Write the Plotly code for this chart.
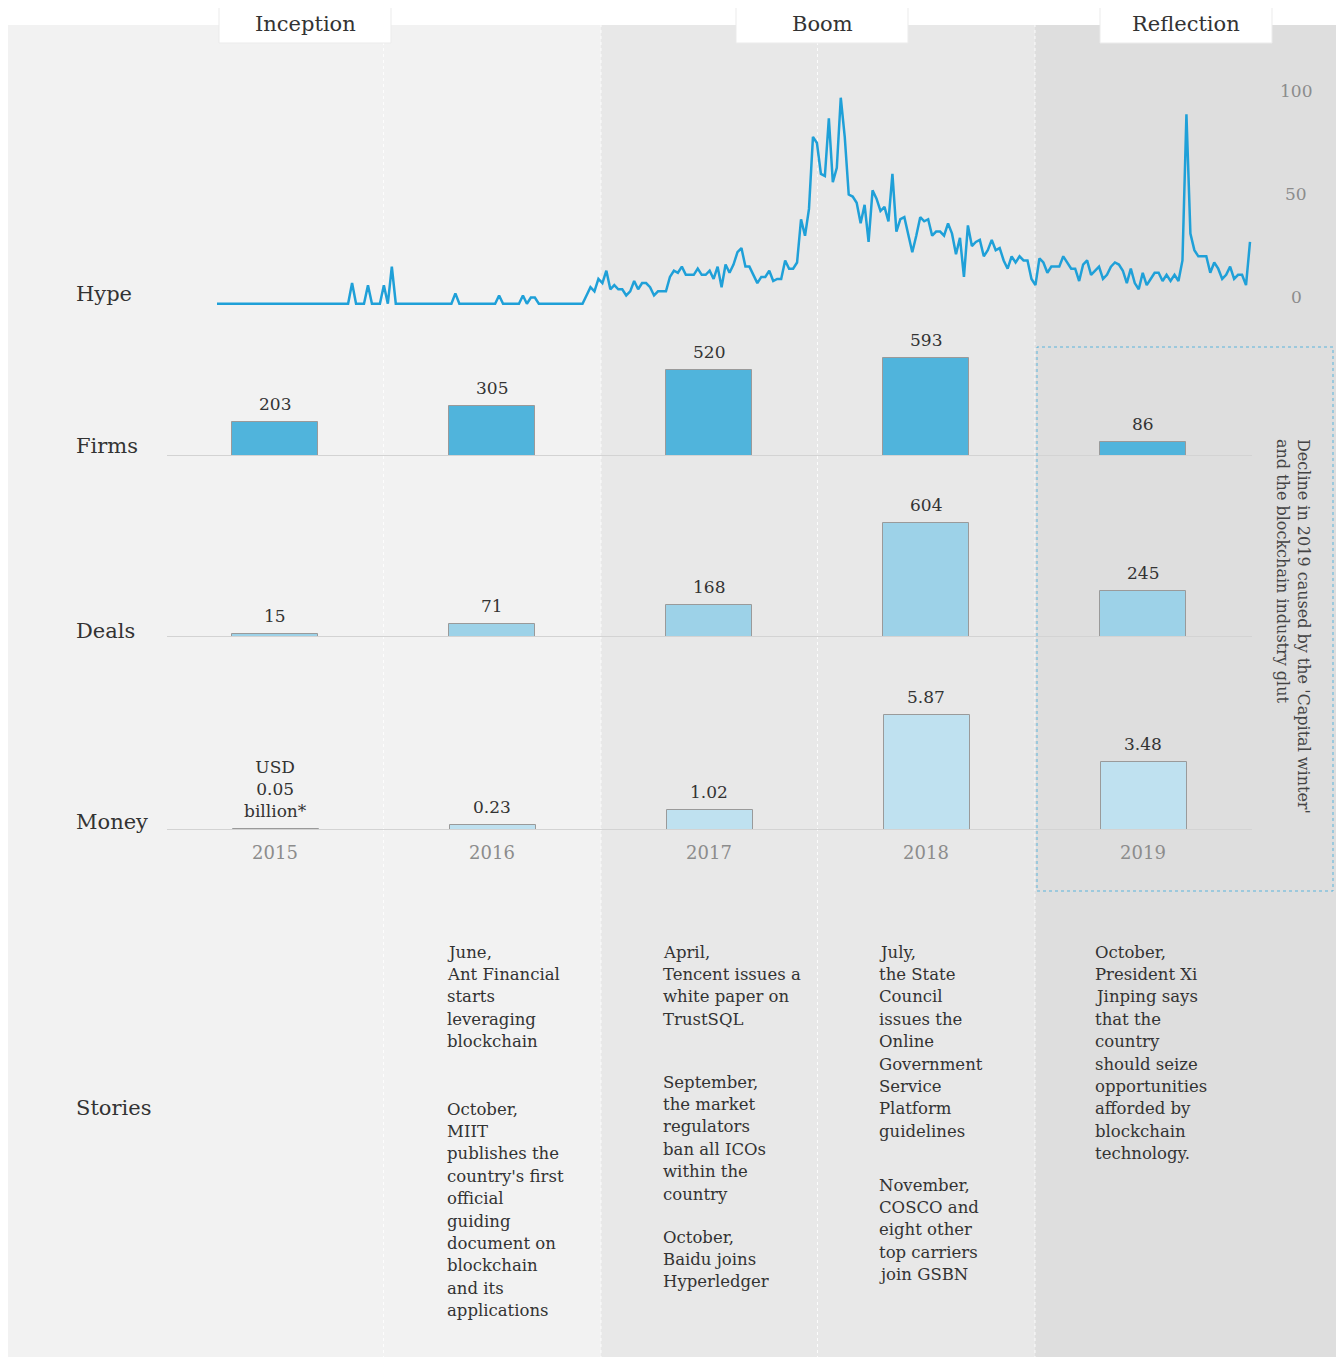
import plotly.graph_objects as go

# ---------------- data ----------------
years = [2015, 2016, 2017, 2018, 2019]
year_labels = ["2015", "2016", "2017", "2018", "2019"]
firms = [203, 305, 520, 593, 86]
firm_labels = ["203", "305", "520", "593", "86"]
deals = [15, 71, 168, 604, 245]
deal_labels = ["15", "71", "168", "604", "245"]
money = [0.05, 0.23, 1.02, 5.87, 3.48]
money_labels = ["USD<br>0.05<br>billion*", "0.23", "1.02", "5.87", "3.48"]

hype = [
    0, 0, 0, 0, 0, 0, 0, 0, 0, 0, 0, 0, 0, 0, 0, 0, 0, 0, 0, 0,
    0, 0, 0, 0, 0, 0, 0, 0, 0, 0, 0, 0, 0,
    0, 10, 0, 0, 0, 9, 0, 0, 0, 9, 0, 18,
    0, 0, 0, 0, 0, 0, 0, 0, 0, 0, 0, 0, 0, 0, 0,
    5,
    0, 0, 0, 0, 0, 0, 0, 0, 0, 0,
    4,
    0, 0, 0, 0, 0,
    4, 0, 3, 3,
    0, 0, 0, 0, 0, 0, 0, 0, 0, 0, 0, 0,
    4, 8, 6, 12, 10, 16, 7, 9, 7, 7,
    4, 6, 11, 7, 10, 10, 8, 4, 6, 6,
    6, 13, 16, 15, 18, 14, 14, 14, 17, 14,
    14, 16, 12, 18, 8, 19, 15, 19, 25, 27,
    18, 18, 14, 10, 13, 13, 16, 11, 12, 12,
    21, 17, 17, 20, 41, 33, 46, 81, 78, 63,
    62, 90, 59, 66, 100, 81, 53, 52, 49, 39,
    48, 30, 55, 51, 45, 47, 40, 63, 35, 41,
    42, 33, 25, 33, 42, 40, 41, 33, 35, 35,
    33, 39, 34, 24, 32, 13, 38, 28, 30, 31,
    23, 26, 31, 26, 27, 21, 17, 23, 20, 23,
    21, 21, 12, 9, 22, 20, 15, 18, 18, 18,
    23, 20, 17, 17, 11, 19, 21, 14, 16, 18,
    12, 14, 18, 20, 19, 16, 10, 17, 10, 7,
    15, 9, 12, 15, 15, 11, 14, 11, 14, 11,
    21, 92, 34, 26, 23, 23, 23, 15, 20, 17,
    12, 14, 18, 12, 14, 14, 9, 30,
]
hype_ticks = [0, 50, 100]
hype_tick_labels = ["0", "50", "100"]

phases = ["Inception", "Boom", "Reflection"]
row_names = ["Hype", "Firms", "Deals", "Money", "Stories"]

stories_2016_a = ["June,", "Ant Financial", "starts", "leveraging", "blockchain"]
stories_2016_b = ["October,", "MIIT", "publishes the", "country's first", "official",
                  "guiding", "document on", "blockchain", "and its", "applications"]
stories_2017_a = ["April,", "Tencent issues a", "white paper on", "TrustSQL"]
stories_2017_b = ["September,", "the market", "regulators", "ban all ICOs",
                  "within the", "country"]
stories_2017_c = ["October,", "Baidu joins", "Hyperledger"]
stories_2018_a = ["July,", "the State", "Council", "issues the", "Online",
                  "Government", "Service", "Platform", "guidelines"]
stories_2018_b = ["November,", "COSCO and", "eight other", "top carriers", "join GSBN"]
stories_2019_a = ["October,", "President Xi", "Jinping says", "that the", "country",
                  "should seize", "opportunities", "afforded by", "blockchain",
                  "technology."]

note_text = "Decline in 2019 caused by the 'Capital winter'<br>and the blockchain industry glut"

# ---------------- styling / layout helpers ----------------
FONT = "DejaVu Serif"
DARK = "#333333"
GREY = "#8c8c8c"
FIRM_C = "#50b4dc"
DEAL_C = "#9dd2e8"
MONEY_C = "#bfe1f0"
LINE_C = "#1fa0d8"

# the page adds an 8px body margin; the figure is sized so the page fits the window
OX, OY = 8, 8
FW, FH = 1328, 1349


def px(x):
    """page pixel x -> paper x"""
    return (x - OX) / FW


def py(y):
    """page pixel y -> paper y"""
    return 1 - (y - OY) / FH


YEAR_PX = 217.0              # pixels per year
X2015 = 275.0 - OX           # figure pixel centre of 2015
x_range = [2015 - X2015 / YEAR_PX, 2015 + (FW - X2015) / YEAR_PX]

h_start, h_end = 217.0 - OX, 1250.0 - OX
h_step = (h_end - h_start) / (len(hype) - 1)
x2_range = [-h_start / h_step, (FW - h_start) / h_step]
hype_idx = list(range(len(hype)))


def y_axis(base_px, top_px, px_per_unit):
    return dict(domain=[py(base_px), py(top_px)],
                range=[0, (base_px - top_px) / px_per_unit],
                visible=False, fixedrange=True)


fig = go.Figure()

# hype line
fig.add_trace(go.Scatter(x=hype_idx, y=hype, xaxis="x2", yaxis="y4", mode="lines",
                         line=dict(color=LINE_C, width=2.5), hoverinfo="skip",
                         showlegend=False, cliponaxis=False))

bar_line = dict(color="#9a9a9a", width=1)
fig.add_trace(go.Bar(x=years, y=firms, width=0.4, xaxis="x", yaxis="y",
                     marker=dict(color=FIRM_C, line=bar_line), showlegend=False))
fig.add_trace(go.Bar(x=years, y=deals, width=0.4, xaxis="x", yaxis="y2",
                     marker=dict(color=DEAL_C, line=bar_line), showlegend=False))
fig.add_trace(go.Bar(x=years, y=money, width=0.4, xaxis="x", yaxis="y3",
                     offset=-0.195,
                     marker=dict(color=MONEY_C, line=bar_line), showlegend=False))

shapes = []
# background panels
panel_top, panel_bot = 25, 1365
for x0, x1, col in [(8, 601, "#f2f2f2"), (601, 1035, "#e8e8e8"), (1035, 1338, "#dedede")]:
    shapes.append(dict(type="rect", xref="paper", yref="paper", x0=px(x0), x1=px(x1),
                       y0=py(panel_bot), y1=py(panel_top), fillcolor=col,
                       line=dict(width=0), layer="below"))
for xv in [383.5, 601, 817.5, 1035]:
    shapes.append(dict(type="line", xref="paper", yref="paper", x0=px(xv), x1=px(xv),
                       y0=py(panel_bot), y1=py(panel_top),
                       line=dict(color="rgba(255,255,255,0.85)", width=1, dash="dot"),
                       layer="below"))
# phase header boxes
phase_x = [(219, 391), (736, 908), (1100, 1272)]
for (x0, x1) in phase_x:
    shapes.append(dict(type="rect", xref="paper", yref="paper", x0=px(x0), x1=px(x1),
                       y0=py(43), y1=py(5), fillcolor="white",
                       line=dict(color="#ebebeb", width=1), layer="below"))
# baselines
for yr in ["y", "y2", "y3"]:
    shapes.append(dict(type="line", xref="paper", yref=yr, x0=px(167), x1=px(1252),
                       y0=0, y1=0, line=dict(color="#d3d3d3", width=2), layer="above"))
# 2019 dotted box
shapes.append(dict(type="rect", xref="paper", yref="paper", x0=px(1037), x1=px(1333),
                   y0=py(891), y1=py(347), line=dict(color="#5ab4dc", width=1, dash="dot"),
                   fillcolor="rgba(0,0,0,0)"))

annotations = []
# phase titles
for name, (x0, x1) in zip(phases, phase_x):
    annotations.append(dict(text=name, xref="paper", yref="paper", x=px((x0 + x1) / 2),
                            y=py(24), xanchor="center", yanchor="middle", showarrow=False,
                            font=dict(family=FONT, size=21, color=DARK)))
# row labels
for name, yc in zip(row_names, [294, 446, 631, 822, 1108]):
    annotations.append(dict(text=name, xref="paper", yref="paper", x=px(74), y=py(yc),
                            xanchor="left", yanchor="middle", showarrow=False,
                            font=dict(family=FONT, size=21, color=DARK)))
# hype scale labels (centred, placed on the hype axis scale)
for v, t in zip(hype_ticks, hype_tick_labels):
    annotations.append(dict(text=t, xref="paper", yref="y4", x=px(1296), y=v,
                            xanchor="center", yanchor="middle", yshift=7, showarrow=False,
                            font=dict(family=FONT, size=17, color=GREY)))
# bar value labels
for yr, vals, labs in [("y", firms, firm_labels), ("y2", deals, deal_labels),
                       ("y3", money, money_labels)]:
    for xv, v, t in zip(years, vals, labs):
        annotations.append(dict(text=t, xref="x", yref=yr, x=xv, y=v, xanchor="center",
                                yanchor="bottom", yshift=6, showarrow=False,
                                font=dict(family=FONT, size=17, color=DARK)))
# stories
LINE_H = 22.4
story_blocks = [
    (445, 952, stories_2016_a), (445, 1109, stories_2016_b),
    (661, 952, stories_2017_a), (661, 1082, stories_2017_b), (661, 1237, stories_2017_c),
    (877, 952, stories_2018_a), (877, 1185, stories_2018_b),
    (1093, 952, stories_2019_a),
]
for x0, y0, lines in story_blocks:
    for k, ln in enumerate(lines):
        annotations.append(dict(text=ln, xref="paper", yref="paper", x=px(x0),
                                y=py(y0 + k * LINE_H), xanchor="left", yanchor="middle",
                                showarrow=False,
                                font=dict(family=FONT, size=16.5, color=DARK)))
# rotated note
annotations.append(dict(text=note_text, xref="paper", yref="paper", x=px(1293), y=py(626),
                        xanchor="center", yanchor="middle", textangle=90, align="left",
                        showarrow=False, font=dict(family=FONT, size=16, color="#444444")))

fig.update_layout(
    width=FW, height=FH, margin=dict(l=0, r=0, t=0, b=0),
    paper_bgcolor="white", plot_bgcolor="rgba(0,0,0,0)",
    font=dict(family=FONT, color=DARK),
    bargap=0, barmode="overlay",
    xaxis=dict(domain=[0, 1], range=x_range, anchor="y3", tickvals=years,
               ticktext=year_labels, showgrid=False, zeroline=False, showline=False,
               ticks="", ticklabelstandoff=10,
               tickfont=dict(family=FONT, size=18, color=GREY), fixedrange=True),
    xaxis2=dict(domain=[0, 1], range=x2_range, anchor="y4", visible=False, fixedrange=True),
    yaxis=y_axis(456, 336, 98 / 593),
    yaxis2=y_axis(637, 497, 114 / 604),
    yaxis3=y_axis(830, 690, 115 / 5.87),
    yaxis4=dict(domain=[py(310), py(80)],
                range=[-(310 - 303.7) / 2.06, (303.7 - 80) / 2.06],
                visible=False, fixedrange=True),
    shapes=shapes, annotations=annotations,
)

fig.write_html("out.html")
